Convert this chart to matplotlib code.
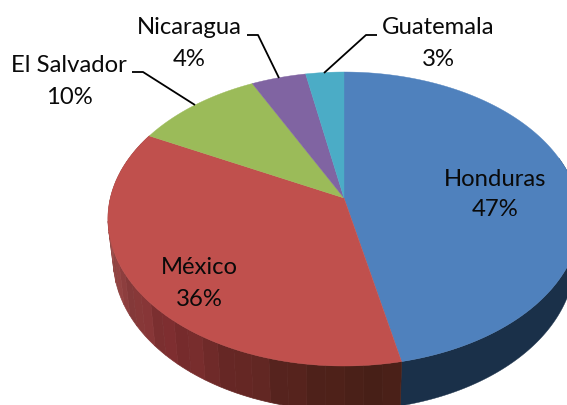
import numpy as np
import matplotlib
matplotlib.use("Agg")
import matplotlib.pyplot as plt
from matplotlib.patches import Polygon
from matplotlib.colors import to_rgb

categories = ["Honduras", "México", "El Salvador", "Nicaragua", "Guatemala"]
values = [46.6, 36.0, 10.1, 4.3, 3.0]
top_colors = ["#4F81BD", "#C0504D", "#9BBB59", "#8064A2", "#4BACC6"]
side_dark = ["#1A3049", "#4A2018", "#5D7035", "#4D3C61", "#2D6776"]
side_light = ["#1A3049", "#9C4F4C", "#5D7035", "#4D3C61", "#2D6776"]
side_mid = "#7E2E30"
band_tone = [1.0, 0.96, 1.0, 1.03, 0.97, 1.0, 0.95, 1.02]

plt.rcParams["font.family"] = ["Lato", "DejaVu Sans"]
W, H = 567, 405
fig = plt.figure(figsize=(W / 100, H / 100), dpi=100)
ax = fig.add_axes([0, 0, 1, 1])
ax.set_xlim(0, W)
ax.set_ylim(H, 0)
ax.axis("off")

CX, CY, A, B, K = 344, 198, 233.6, 144, 0.1429
MID_Y, RIM_Y, RIM_SX, RIM_SY = 219, 259, 0.978, 1.03


def project(theta):
    u, v = np.sin(theta), np.cos(theta)
    w = 1 + K * v
    return CX + A * u / w, CY - B * v / w


def rim_edge(x, y):
    return CX + (x - CX) * RIM_SX, RIM_Y + (y - MID_Y) * RIM_SY


edges = 2 * np.pi * np.cumsum([0] + values) / sum(values)

# side wall: one block for the blue slice, shaded strips for the red one
ts = np.linspace(edges[0], edges[1], 200)
ts = ts[np.cos(ts) < 0.3]
x, y = project(ts)
bx, by = rim_edge(x, y)
ax.add_patch(Polygon(np.r_[np.c_[x, y], np.c_[bx[::-1], by[::-1]]], closed=True,
                     fc=side_dark[0], ec=side_dark[0], lw=0.3, zorder=1))

t0, t1 = edges[1], edges[2]
n = 32
ts = np.linspace(t0, t1, n + 1)
dark, mid, light = (np.array(to_rgb(c)) for c in (side_dark[1], side_mid, side_light[1]))
for j in range(n):
    seg = np.linspace(ts[j], ts[j + 1], 4)
    x, y = project(seg)
    bx, by = rim_edge(x, y)
    f = np.clip((seg[1] - np.pi) / 1.45, 0, 1)
    if f < 0.5:
        c = dark * (1 - 2 * f) + mid * 2 * f
    else:
        c = mid * (2 - 2 * f) + light * (2 * f - 1)
    c = np.clip(c * band_tone[j % len(band_tone)], 0, 1)
    ax.add_patch(Polygon(np.r_[np.c_[x, y], np.c_[bx[::-1], by[::-1]]], closed=True,
                         fc=c, ec=c, lw=0.5, zorder=1))

# top surface
for i in range(len(values)):
    ts = np.linspace(edges[i], edges[i + 1], 200)
    x, y = project(ts)
    pts = np.r_[[[CX, CY]], np.c_[x, y]]
    ax.add_patch(Polygon(pts, closed=True, fc=top_colors[i], ec=top_colors[i], lw=0.3, zorder=2))

label_xy = [(495, 178), (199, 267), (69, 65), (189, 27), (438, 27)]
fs = 17.2
for i, (name, (lx, ly)) in enumerate(zip(categories, label_xy)):
    ax.text(lx, ly + 1, name, ha="center", va="center", fontsize=fs,
            color="#0A0A0A", zorder=4)
    ax.text(lx, ly + 32, f"{round(values[i])}%", ha="center", va="center", fontsize=fs,
            color="#0A0A0A", zorder=4)

leaders = [
    ([132, 143, 195], [72, 72, 105]),
    ([247, 258, 279], [35, 35, 78]),
    ([377, 366, 324], [35, 35, 73]),
]
for xs, ys in leaders:
    ax.plot(xs, ys, color="black", lw=1.3, zorder=3, solid_capstyle="butt")

fig.savefig("out.png", dpi=100, facecolor="white")
